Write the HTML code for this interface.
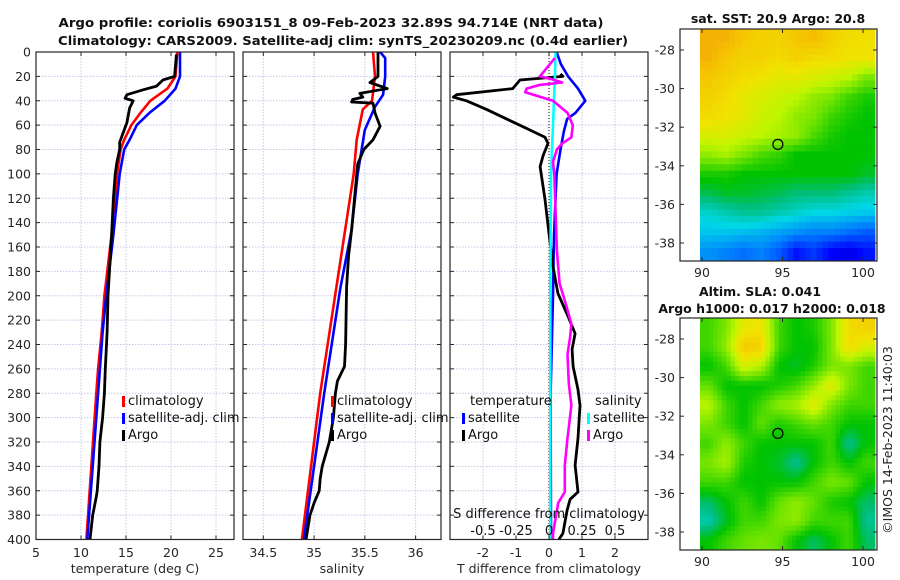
<!DOCTYPE html>
<html><head><meta charset="utf-8"><style>
html,body{margin:0;padding:0;background:#fff;}
svg{display:block;font-family:"DejaVu Sans","Liberation Sans",sans-serif;}
</style></head><body>
<svg id="fig" width="900" height="580" viewBox="0 0 900 580" xmlns="http://www.w3.org/2000/svg">
<g font-weight="bold" font-size="12.5" text-anchor="middle" fill="#111">
<text x="331" y="27" textLength="545" lengthAdjust="spacingAndGlyphs">Argo profile: coriolis 6903151_8 09-Feb-2023 32.89S 94.714E (NRT data)</text>
<text x="343" y="45" textLength="570" lengthAdjust="spacingAndGlyphs">Climatology: CARS2009. Satellite-adj clim: synTS_20230209.nc (0.4d earlier)</text>
</g>
<g id="layer"></g>
</svg>
<script>
// ---------------- data ----------------
const depthTicks=[0,20,40,60,80,100,120,140,160,180,200,220,240,260,280,300,320,340,360,380,400];
const tempTicks=[5,10,15,20,25];
const salTicks=[34.5,35,35.5,36];
const tdiffTicks=[-2,-1,0,1,2];
const sdiffTicks=[-0.5,-0.25,0,0.25,0.5];
const sdiffTickLabels=["-0.5","-0.25","0","0.25","0.5"];

const climTDepth=[0,20,30,40,50,60,72,80,100,150,200,230,260,280,400];
const climT=[20.7,20.5,19.6,17.7,16.6,15.6,14.8,14.4,14.0,13.4,12.6,12.3,11.9,11.7,10.6];
const satTDepth=[0,20,30,40,50,60,72,80,100,150,200,230,260,280,400];
const satT=[21.0,21.0,20.5,19.3,17.6,16.2,15.4,14.8,14.3,13.6,12.8,12.4,12.1,11.9,10.7];
const argoTDepth=[2,20,23,28,31,35,38,40,46,58,66,74,80,90,100,120,150,200,230,260,280,300,320,340,360,365,380,400];
const argoT=[20.6,20.4,19.1,18.4,16.9,15.1,14.9,15.8,15.4,15.1,14.7,14.3,14.3,14.0,13.8,13.6,13.4,13.0,12.9,12.7,12.6,12.4,12.1,12.0,11.8,11.7,11.3,11.0];

const climSDepth=[0,20,40,47,72,100,193,280,400];
const climS=[35.58,35.6,35.57,35.48,35.42,35.39,35.22,35.06,34.88];
const satSDepth=[0,5,20,35,45,64,100,146,193,280,400];
const satS=[35.65,35.7,35.7,35.68,35.6,35.5,35.43,35.37,35.26,35.1,34.9];
const argoSDepth=[0,20,22,25,30,34,37,39,41,42,50,61,72,80,92,146,167,193,240,258,270,280,300,320,340,350,360,370,380,400];
const argoS=[35.63,35.63,35.6,35.55,35.72,35.45,35.48,35.38,35.37,35.58,35.6,35.65,35.58,35.49,35.43,35.37,35.34,35.32,35.31,35.3,35.23,35.21,35.19,35.15,35.08,35.06,35.05,35.0,34.96,34.92];

const dTsatDepth=[0,10,20,30,40,50,55,65,80,100,150,200,280,400];
const dTsat=[0.23,0.36,0.58,0.88,1.1,0.8,0.55,0.45,0.35,0.23,0.15,0.12,0.05,0.06];
const dTargoDepth=[18,20,23,30,35,37,40,47,56,64,70,75,85,94,121,149,176,198,217,231,244,258,277,290,317,339,361,367,376,395,400];
const dTargo=[0.35,0.42,-0.88,-1.1,-2.8,-2.9,-2.5,-1.9,-1.2,-0.58,-0.12,-0.03,-0.18,-0.27,-0.12,0.0,0.12,0.27,0.58,0.79,0.7,0.73,0.88,0.94,0.88,0.79,0.88,0.64,0.55,0.42,0.3];
const dSsatDepth=[0,20,60,100,200,400];
const dSsat=[0.05,0.045,0.03,0.015,0.01,0.01];
const dSargoDepth=[5,20,22,25,27,30,33,40,50,60,70,75,80,90,100,163,190,204,223,234,248,272,290,317,339,361,370,395,400];
const dSargo=[0.045,-0.07,0.01,0.1,-0.07,-0.17,-0.18,0.03,0.14,0.18,0.17,0.1,0.06,0.03,0.04,0.06,0.08,0.12,0.17,0.16,0.14,0.15,0.17,0.14,0.12,0.12,0.07,0.03,0.03];

// map grids (rows lat -27..-39, cols lon 90..100.8), colormap index 0..1
const sstGrid=[
[.84,.84,.8,.78,.78,.8,.82,.78,.76,.75],
[.84,.8,.78,.78,.76,.78,.76,.76,.74,.74],
[.8,.78,.76,.74,.72,.72,.7,.68,.66,.6],
[.78,.76,.72,.7,.68,.66,.62,.6,.55,.52],
[.76,.74,.72,.68,.66,.62,.6,.55,.52,.5],
[.7,.7,.68,.66,.64,.62,.56,.52,.5,.5],
[.62,.64,.6,.56,.54,.5,.5,.5,.5,.5],
[.52,.52,.5,.5,.5,.5,.5,.5,.5,.48],
[.46,.48,.48,.47,.46,.44,.44,.44,.42,.4],
[.38,.4,.42,.42,.4,.38,.36,.36,.35,.34],
[.34,.34,.33,.32,.3,.28,.26,.26,.24,.22],
[.28,.26,.24,.26,.22,.14,.18,.12,.1,.14]];
const slaGrid=[
[.55,.6,.72,.74,.55,.5,.52,.6,.76,.78],
[.55,.62,.8,.78,.55,.5,.5,.6,.76,.7],
[.5,.55,.7,.65,.5,.48,.52,.6,.6,.55],
[.58,.5,.5,.5,.52,.55,.62,.72,.6,.55],
[.66,.55,.5,.55,.62,.64,.72,.6,.55,.55],
[.6,.55,.5,.58,.52,.55,.58,.55,.5,.5],
[.55,.62,.55,.5,.5,.5,.5,.55,.42,.5],
[.6,.64,.52,.5,.48,.42,.5,.55,.5,.55],
[.55,.55,.5,.5,.5,.5,.55,.6,.58,.5],
[.45,.5,.55,.5,.58,.62,.58,.52,.5,.45],
[.4,.48,.55,.55,.6,.62,.55,.55,.55,.42],
[.5,.55,.58,.6,.58,.5,.45,.5,.55,.45]];
const latTicks=[-28,-30,-32,-34,-36,-38];
const lonTicks=[90,95,100];
const argoPos=[94.714,-32.89];

// ---------------- helpers ----------------
const NS="http://www.w3.org/2000/svg";
const L=document.getElementById('layer');
function mk(tag,attrs,parent){const e=document.createElementNS(NS,tag);for(const k in attrs)e.setAttribute(k,attrs[k]);(parent||L).appendChild(e);return e;}
function txt(x,y,s,attrs,parent){const t=mk('text',Object.assign({x:x,y:y,'font-size':12.5,fill:'#262626'},attrs||{}),parent);t.textContent=s;return t;}

const PT=52,PB=539.5;
const yD=d=>PT+(d/400)*(PB-PT);
function axis(x0,x1,v0,v1){return v=>x0+(v-v0)/(v1-v0)*(x1-x0);}

function panelFrame(x0,x1,xs,xticks,name){
  const g=mk('g',{});
  
  
  depthTicks.forEach(d=>{if(d>0&&d<400)mk('line',{x1:x0,x2:x1,y1:yD(d),y2:yD(d),stroke:'#c4c9e6','stroke-width':1,'stroke-dasharray':'1.5,1.5'},g);});
  xticks.forEach(v=>{const x=xs(v);if(x>x0+1&&x<x1-1)mk('line',{x1:x,x2:x,y1:PT,y2:PB,stroke:'#c4c9e6','stroke-width':1,'stroke-dasharray':'1.5,1.5'},g);});
  return g;
}
function panelBox(x0,x1,xs,xticks,g){
  depthTicks.forEach(d=>{mk('line',{x1:x0,x2:x0+4,y1:yD(d),y2:yD(d),stroke:'#262626'},g);mk('line',{x1:x1-4,x2:x1,y1:yD(d),y2:yD(d),stroke:'#262626'},g);});
  xticks.forEach(v=>{const x=xs(v);mk('line',{x1:x,x2:x,y1:PB,y2:PB-4,stroke:'#262626'},g);mk('line',{x1:x,x2:x,y1:PT,y2:PT+4,stroke:'#262626'},g);});
  mk('rect',{x:x0,y:PT,width:x1-x0,height:PB-PT,fill:'none',stroke:'#262626','stroke-width':1.2},g);
}
function line(depths,vals,xs,color,name,g,w){
  const pts=depths.map((d,i)=>xs(vals[i]).toFixed(1)+','+yD(d).toFixed(1)).join(' ');
  const p=mk('polyline',{points:pts,fill:'none',stroke:color,'stroke-width':w||2.6,'stroke-linejoin':'round'},g);
  
  
}
function legendEntry(x,y,color,label,g,name){
  const e=mk('g',{},g);
  
  
  mk('rect',{x:x,y:y-9,width:3,height:11,fill:color},e);
  txt(x+6,y,label,{'font-size':13,fill:'#111'},e);
}

// ---------- panel 1: temperature ----------
const xT=axis(36,234,5,27);
const g1=panelFrame(36,234,xT,tempTicks,'temperature-panel');
depthTicks.forEach(d=>{txt(31,yD(d)+4.5,String(d),{'text-anchor':'end'},g1);});
tempTicks.forEach(v=>txt(xT(v),557,String(v),{'text-anchor':'middle'},g1));
txt(135,573,'temperature (deg C)',{'text-anchor':'middle'},g1);
line(climTDepth,climT,xT,'#ff0000','climatology-temperature-line',g1);
line(satTDepth,satT,xT,'#0000ff','satellite-temperature-line',g1);
line(argoTDepth,argoT,xT,'#000','argo-temperature-line',g1,2.8);
panelBox(36,234,xT,tempTicks,g1);
legendEntry(122,405,'#ff0000','climatology',g1,'legend-climatology');
legendEntry(122,422,'#0000ff','satellite-adj. clim',g1,'legend-satellite-adj');
legendEntry(122,439,'#000','Argo',g1,'legend-argo');

// ---------- panel 2: salinity ----------
const xS=axis(243,441,34.3,36.25);
const g2=panelFrame(243,441,xS,salTicks,'salinity-panel');
salTicks.forEach(v=>txt(xS(v),557,String(v),{'text-anchor':'middle'},g2));
txt(342,573,'salinity',{'text-anchor':'middle'},g2);
line(climSDepth,climS,xS,'#ff0000','climatology-salinity-line',g2);
line(satSDepth,satS,xS,'#0000ff','satellite-salinity-line',g2);
line(argoSDepth,argoS,xS,'#000','argo-salinity-line',g2,2.8);
panelBox(243,441,xS,salTicks,g2);
legendEntry(331,405,'#ff0000','climatology',g2,'legend-climatology-2');
legendEntry(331,422,'#0000ff','satellite-adj. clim',g2,'legend-satellite-adj-2');
legendEntry(331,439,'#000','Argo',g2,'legend-argo-2');

// ---------- panel 3: differences ----------
const xdT=axis(450,648,-3,3);
const xdS=axis(450,648,-0.75,0.75);
const g3=panelFrame(450,648,xdT,tdiffTicks,'difference-panel');
mk('line',{x1:xdT(0),x2:xdT(0),y1:PT,y2:PB,stroke:'#333','stroke-width':1.2,'stroke-dasharray':'1,2'},g3);
tdiffTicks.forEach(v=>txt(xdT(v),557,String(v),{'text-anchor':'middle'},g3));
txt(549,573,'T difference from climatology',{'text-anchor':'middle'},g3);
line(dTsatDepth,dTsat,xdT,'#0000ff','satellite-temperature-difference-line',g3);
line(dTargoDepth,dTargo,xdT,'#000','argo-temperature-difference-line',g3,2.8);
line(dSsatDepth,dSsat,xdS,'#00ffff','satellite-salinity-difference-line',g3);
line(dSargoDepth,dSargo,xdS,'#ff00ff','argo-salinity-difference-line',g3);
panelBox(450,648,xdT,tdiffTicks,g3);
sdiffTicks.forEach((v,i)=>txt(xdS(v),535,sdiffTickLabels[i],{'text-anchor':'middle','font-size':13,fill:'#111'},g3));
txt(549,518,'S difference from climatology',{'text-anchor':'middle','font-size':13,fill:'#111'},g3);
txt(470,405,'temperature',{'font-size':13,fill:'#111'},g3);
legendEntry(462,422,'#0000ff','satellite',g3,'legend-t-satellite');
legendEntry(462,439,'#000','Argo',g3,'legend-t-argo');
txt(595,405,'salinity',{'font-size':13,fill:'#111'},g3);
legendEntry(587,422,'#00ffff','satellite',g3,'legend-s-satellite');
legendEntry(587,439,'#ff00ff','Argo',g3,'legend-s-argo');

// ---------- maps ----------
const cmapStops=[[0,[0,0,140]],[0.12,[0,0,255]],[0.25,[0,120,255]],[0.36,[0,215,230]],[0.44,[0,190,120]],[0.5,[0,195,0]],[0.58,[100,225,0]],[0.66,[190,245,0]],[0.74,[240,228,0]],[0.82,[245,190,0]],[0.9,[240,140,20]],[1,[200,60,0]]];
function cmap(v){v=Math.max(0,Math.min(1,v));for(let i=1;i<cmapStops.length;i++){if(v<=cmapStops[i][0]){const a=cmapStops[i-1],b=cmapStops[i];const t=(v-a[0])/(b[0]-a[0]);const c=a[1].map((x,k)=>Math.round(x+(b[1][k]-x)*t));return 'rgb('+c.join(',')+')';}}return 'rgb(200,60,0)';}
function drawMap(top,grid,name,sub,titleLines){
  const g=mk('g',{});
  
  
  const bx0=680,bx1=877,by0=top,by1=top+232;
  const lonX=axis(702,863,90,100);
  const latY=axis(by0+21,by0+214,-28,-38);
  const ix0=700,ix1=875;
  const rows=grid.length,cols=grid[0].length;
  const S=sub;
  const cw=(ix1-ix0)/(cols*S),ch=(by1-by0)/(rows*S);
  for(let r=0;r<rows*S;r++)for(let c=0;c<cols*S;c++){
    const fr=Math.min(rows-1,Math.max(0,(r+0.5)/S-0.5)),fc=Math.min(cols-1,Math.max(0,(c+0.5)/S-0.5));
    const r0=Math.floor(fr),c0=Math.floor(fc),r1=Math.min(rows-1,r0+1),c1=Math.min(cols-1,c0+1);
    const tr=fr-r0,tc=fc-c0;
    const v=grid[r0][c0]*(1-tr)*(1-tc)+grid[r0][c1]*(1-tr)*tc+grid[r1][c0]*tr*(1-tc)+grid[r1][c1]*tr*tc;
    mk('rect',{x:(ix0+c*cw).toFixed(2),y:(by0+r*ch).toFixed(2),width:(cw+0.4).toFixed(2),height:(ch+0.4).toFixed(2),fill:cmap(v)},g);
  }
  const circ=mk('circle',{cx:lonX(argoPos[0]),cy:latY(argoPos[1]),r:5,fill:'none',stroke:'#000','stroke-width':1.2},g);
  
  
  latTicks.forEach(v=>{const y=latY(v);txt(675,y+4.5,String(v),{'text-anchor':'end'},g);mk('line',{x1:bx1-4,x2:bx1,y1:y,y2:y,stroke:'#262626'},g);mk('line',{x1:bx0,x2:bx0+4,y1:y,y2:y,stroke:'#262626'},g);});
  lonTicks.forEach(v=>{const x=lonX(v);txt(x,by1+16,String(v),{'text-anchor':'middle'},g);mk('line',{x1:x,x2:x,y1:by0,y2:by0+4,stroke:'#262626'},g);mk('line',{x1:x,x2:x,y1:by1-4,y2:by1,stroke:'#262626'},g);});
  mk('rect',{x:bx0,y:by0,width:bx1-bx0,height:by1-by0,fill:'none',stroke:'#262626','stroke-width':1.2},g);
  titleLines.forEach(t=>{txt(t[0],t[1],t[2],{'font-weight':'bold','text-anchor':'middle',fill:'#111','font-size':12.5},g);});
}
drawMap(29,sstGrid,'sst-map',3,[[778,23,'sat. SST: 20.9 Argo: 20.8']]);
drawMap(318,slaGrid,'sla-map',4,[[760,296,'Altim. SLA: 0.041'],[772,313,'Argo h1000: 0.017 h2000: 0.018']]);
const cp=txt(0,0,'©IMOS 14-Feb-2023 11:40:03',{'font-size':12.5,fill:'#222','text-anchor':'middle',transform:'translate(892,440) rotate(-90)'});


</script>
</body></html>
